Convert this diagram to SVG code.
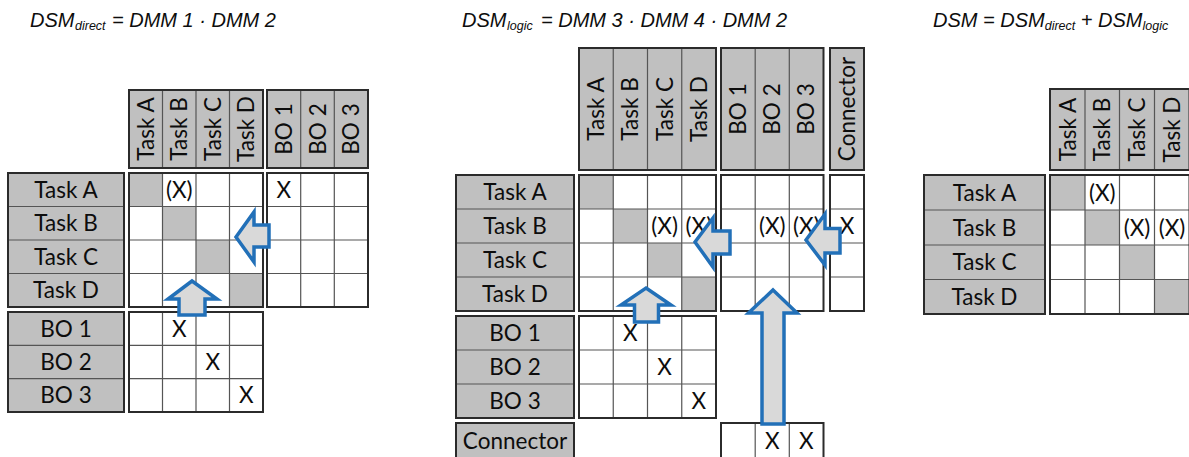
<svg xmlns="http://www.w3.org/2000/svg" width="1189" height="457" viewBox="0 0 1189 457">
<style>
.bg{fill:#ffffff}
.hdr{fill:#c0c0c0;stroke:none}
.frame{fill:none;stroke:#2b2b2b;stroke-width:2}
.grid{stroke:#555555;stroke-width:1.2;fill:none}
.cell{fill:#ffffff;stroke:none}
.diag{fill:#c0c0c0;stroke:none}
.t{font-family:Lato,"Liberation Sans",sans-serif;font-size:22.5px;fill:#0d0d0d;text-anchor:middle}
.title{font-family:"Liberation Sans",Arial,sans-serif;font-style:italic;font-size:20px;fill:#0d0d0d}
.sub{font-size:12.5px}
.arrow{fill:#d9d9d9;stroke:#2270b8;stroke-width:3.5;stroke-linejoin:miter}
</style>
<rect class="bg" x="0" y="0" width="1189" height="457"/>

<!-- Titles -->
<g id="title-direct">
<text class="title" y="26.5"><tspan x="30">DSM</tspan><tspan class="sub" x="75" y="29.5">direct</tspan><tspan x="112" y="26.5">= DMM 1 · DMM 2</tspan></text>
</g>
<g id="title-logic">
<text class="title" y="26.5"><tspan x="462">DSM</tspan><tspan class="sub" x="507" y="29.5">logic</tspan><tspan x="541" y="26.5">= DMM 3 · DMM 4 · DMM 2</tspan></text>
</g>
<g id="title-dsm">
<text class="title" y="26.5"><tspan x="933">DSM = DSM</tspan><tspan class="sub" y="29.5">direct</tspan><tspan y="26.5"> + DSM</tspan><tspan class="sub" y="29.5">logic</tspan></text>
</g>

<!-- LEFT: DSM direct -->
<g id="L-col-tasks">
<rect class="hdr" x="129" y="90" width="134" height="78"/>
<path class="grid" d="M162.5 90V168M196 90V168M229.5 90V168"/>
<rect class="frame" x="129" y="90" width="134" height="78"/>
<text class="t" transform="translate(153.75,129) rotate(-90)">Task A</text>
<text class="t" transform="translate(187.25,129) rotate(-90)">Task B</text>
<text class="t" transform="translate(220.75,129) rotate(-90)">Task C</text>
<text class="t" transform="translate(254.25,129) rotate(-90)">Task D</text>
</g>
<g id="L-col-bo">
<rect class="hdr" x="267" y="90" width="101" height="78"/>
<path class="grid" d="M300.7 90V168M334.3 90V168"/>
<rect class="frame" x="267" y="90" width="101" height="78"/>
<text class="t" transform="translate(291.8,129) rotate(-90)">BO 1</text>
<text class="t" transform="translate(325.5,129) rotate(-90)">BO 2</text>
<text class="t" transform="translate(359.2,129) rotate(-90)">BO 3</text>
</g>
<g id="L-row-tasks">
<rect class="hdr" x="8" y="173" width="116" height="134"/>
<path class="grid" d="M8 206.5H124M8 240H124M8 273.5H124"/>
<rect class="frame" x="8" y="173" width="116" height="134"/>
<text class="t" x="66" y="197.75">Task A</text>
<text class="t" x="66" y="231.25">Task B</text>
<text class="t" x="66" y="264.75">Task C</text>
<text class="t" x="66" y="298.25">Task D</text>
</g>
<g id="L-row-bo">
<rect class="hdr" x="8" y="312" width="116" height="100"/>
<path class="grid" d="M8 345.3H124M8 378.7H124"/>
<rect class="frame" x="8" y="312" width="116" height="100"/>
<text class="t" x="66" y="336.7">BO 1</text>
<text class="t" x="66" y="370">BO 2</text>
<text class="t" x="66" y="403.3">BO 3</text>
</g>
<g id="L-task-task">
<rect class="cell" x="129" y="173" width="134" height="134"/>
<rect class="diag" x="129" y="173" width="33.5" height="33.5"/>
<rect class="diag" x="162.5" y="206.5" width="33.5" height="33.5"/>
<rect class="diag" x="196" y="240" width="33.5" height="33.5"/>
<rect class="diag" x="229.5" y="273.5" width="33.5" height="33.5"/>
<path class="grid" d="M162.5 173V307M196 173V307M229.5 173V307M129 206.5H263M129 240H263M129 273.5H263"/>
<rect class="frame" x="129" y="173" width="134" height="134"/>
<text class="t" x="179.25" y="197.75">(X)</text>
</g>
<g id="L-task-bo">
<rect class="cell" x="267" y="173" width="101" height="134"/>
<path class="grid" d="M300.7 173V307M334.3 173V307M267 206.5H368M267 240H368M267 273.5H368"/>
<rect class="frame" x="267" y="173" width="101" height="134"/>
<text class="t" x="283.8" y="197.75">X</text>
</g>
<g id="L-bo-task">
<rect class="cell" x="129" y="312" width="134" height="100"/>
<path class="grid" d="M162.5 312V412M196 312V412M229.5 312V412M129 345.3H263M129 378.7H263"/>
<rect class="frame" x="129" y="312" width="134" height="100"/>
<text class="t" x="179.25" y="336.7">X</text>
<text class="t" x="212.75" y="370">X</text>
<text class="t" x="246.25" y="403.3">X</text>
</g>

<!-- MIDDLE: DSM logic -->
<g id="M-col-tasks">
<rect class="hdr" x="579" y="48" width="137" height="122"/>
<path class="grid" d="M613.25 48V170M647.5 48V170M681.75 48V170"/>
<rect class="frame" x="579" y="48" width="137" height="122"/>
<text class="t" transform="translate(604.1,109) rotate(-90)">Task A</text>
<text class="t" transform="translate(638.4,109) rotate(-90)">Task B</text>
<text class="t" transform="translate(672.6,109) rotate(-90)">Task C</text>
<text class="t" transform="translate(706.9,109) rotate(-90)">Task D</text>
</g>
<g id="M-col-bo">
<rect class="hdr" x="721" y="48" width="102.5" height="122"/>
<path class="grid" d="M755.2 48V170M789.3 48V170"/>
<rect class="frame" x="721" y="48" width="102.5" height="122"/>
<text class="t" transform="translate(746.1,109) rotate(-90)">BO 1</text>
<text class="t" transform="translate(780.3,109) rotate(-90)">BO 2</text>
<text class="t" transform="translate(814.4,109) rotate(-90)">BO 3</text>
</g>
<g id="M-col-connector">
<rect class="hdr" x="830" y="48" width="34" height="122"/>
<rect class="frame" x="830" y="48" width="34" height="122"/>
<text class="t" transform="translate(855,109) rotate(-90)">Connector</text>
</g>
<g id="M-row-tasks">
<rect class="hdr" x="456" y="175" width="118" height="136"/>
<path class="grid" d="M456 209H574M456 243H574M456 277H574"/>
<rect class="frame" x="456" y="175" width="118" height="136"/>
<text class="t" x="515" y="200">Task A</text>
<text class="t" x="515" y="234">Task B</text>
<text class="t" x="515" y="268">Task C</text>
<text class="t" x="515" y="302">Task D</text>
</g>
<g id="M-row-bo">
<rect class="hdr" x="456" y="316" width="118" height="102"/>
<path class="grid" d="M456 350H574M456 384H574"/>
<rect class="frame" x="456" y="316" width="118" height="102"/>
<text class="t" x="515" y="341">BO 1</text>
<text class="t" x="515" y="375">BO 2</text>
<text class="t" x="515" y="409">BO 3</text>
</g>
<g id="M-row-connector">
<rect class="hdr" x="456" y="423" width="118" height="36"/>
<rect class="frame" x="456" y="423" width="118" height="36"/>
<text class="t" x="515" y="448.5">Connector</text>
</g>
<g id="M-task-task">
<rect class="cell" x="579" y="175" width="137" height="136"/>
<rect class="diag" x="579" y="175" width="34.25" height="34"/>
<rect class="diag" x="613.25" y="209" width="34.25" height="34"/>
<rect class="diag" x="647.5" y="243" width="34.25" height="34"/>
<rect class="diag" x="681.75" y="277" width="34.25" height="34"/>
<path class="grid" d="M613.25 175V311M647.5 175V311M681.75 175V311M579 209H716M579 243H716M579 277H716"/>
<rect class="frame" x="579" y="175" width="137" height="136"/>
<text class="t" x="664.6" y="234">(X)</text>
<text class="t" x="698.9" y="234">(X)</text>
</g>
<g id="M-task-bo">
<rect class="cell" x="721" y="175" width="102.5" height="136"/>
<path class="grid" d="M755.2 175V311M789.3 175V311M721 209H823.5M721 243H823.5M721 277H823.5"/>
<rect class="frame" x="721" y="175" width="102.5" height="136"/>
<text class="t" x="772.3" y="234">(X)</text>
<text class="t" x="806.4" y="234">(X)</text>
</g>
<g id="M-task-connector">
<rect class="cell" x="830" y="175" width="34" height="136"/>
<path class="grid" d="M830 209H864M830 243H864M830 277H864"/>
<rect class="frame" x="830" y="175" width="34" height="136"/>
<text class="t" x="847" y="234">X</text>
</g>
<g id="M-bo-task">
<rect class="cell" x="579" y="316" width="137" height="102"/>
<path class="grid" d="M613.25 316V418M647.5 316V418M681.75 316V418M579 350H716M579 384H716"/>
<rect class="frame" x="579" y="316" width="137" height="102"/>
<text class="t" x="630.4" y="341">X</text>
<text class="t" x="664.6" y="375">X</text>
<text class="t" x="698.9" y="409">X</text>
</g>
<g id="M-connector-bo">
<rect class="cell" x="721" y="423" width="102.5" height="36"/>
<path class="grid" d="M755.2 423V459M789.3 423V459"/>
<rect class="frame" x="721" y="423" width="102.5" height="36"/>
<text class="t" x="772.3" y="448.5">X</text>
<text class="t" x="806.4" y="448.5">X</text>
</g>

<!-- RIGHT: DSM -->
<g id="R-col-tasks">
<rect class="hdr" x="1050" y="89" width="139.5" height="81"/>
<path class="grid" d="M1085 89V170M1119.5 89V170M1154.5 89V170"/>
<rect class="frame" x="1050" y="89" width="139.5" height="81"/>
<text class="t" transform="translate(1075.5,129.5) rotate(-90)">Task A</text>
<text class="t" transform="translate(1110.25,129.5) rotate(-90)">Task B</text>
<text class="t" transform="translate(1145,129.5) rotate(-90)">Task C</text>
<text class="t" transform="translate(1180,129.5) rotate(-90)">Task D</text>
</g>
<g id="R-row-tasks">
<rect class="hdr" x="924" y="175" width="121" height="139"/>
<path class="grid" d="M924 210H1045M924 245H1045M924 279.5H1045"/>
<rect class="frame" x="924" y="175" width="121" height="139"/>
<text class="t" x="984.5" y="200.5">Task A</text>
<text class="t" x="984.5" y="235.5">Task B</text>
<text class="t" x="984.5" y="270.25">Task C</text>
<text class="t" x="984.5" y="304.75">Task D</text>
</g>
<g id="R-task-task">
<rect class="cell" x="1050" y="175" width="139.5" height="139"/>
<rect class="diag" x="1050" y="175" width="35" height="35"/>
<rect class="diag" x="1085" y="210" width="34.5" height="35"/>
<rect class="diag" x="1119.5" y="245" width="35" height="34.5"/>
<rect class="diag" x="1154.5" y="279.5" width="35" height="34.5"/>
<path class="grid" d="M1085 175V314M1119.5 175V314M1154.5 175V314M1050 210H1189M1050 245H1189M1050 279.5H1189"/>
<rect class="frame" x="1050" y="175" width="139.5" height="139"/>
<text class="t" x="1102.25" y="200.5">(X)</text>
<text class="t" x="1137" y="235.5">(X)</text>
<text class="t" x="1172" y="235.5">(X)</text>
</g>

<!-- Connectors (block arrows) -->
<g id="connectors">
<polygon class="arrow" points="236,237 254,212 254,225 269,225 269,247 254,247 254,262"/>
<polygon class="arrow" points="192,281 217,299 205,299 205,315 179,315 179,299 168,299"/>
<polygon class="arrow" points="695,242 713,218 713,231 730,231 730,254 713,254 713,267"/>
<polygon class="arrow" points="806,240 825,214 825,228.5 840,228.5 840,253 825,253 825,265"/>
<polygon class="arrow" points="646,288 671,305 658.5,305 658.5,322 634.5,322 634.5,305 621,305"/>
<polygon class="arrow" points="773,290 797,313 784,313 784,424 762,424 762,313 748.5,313"/>
</g>
</svg>
